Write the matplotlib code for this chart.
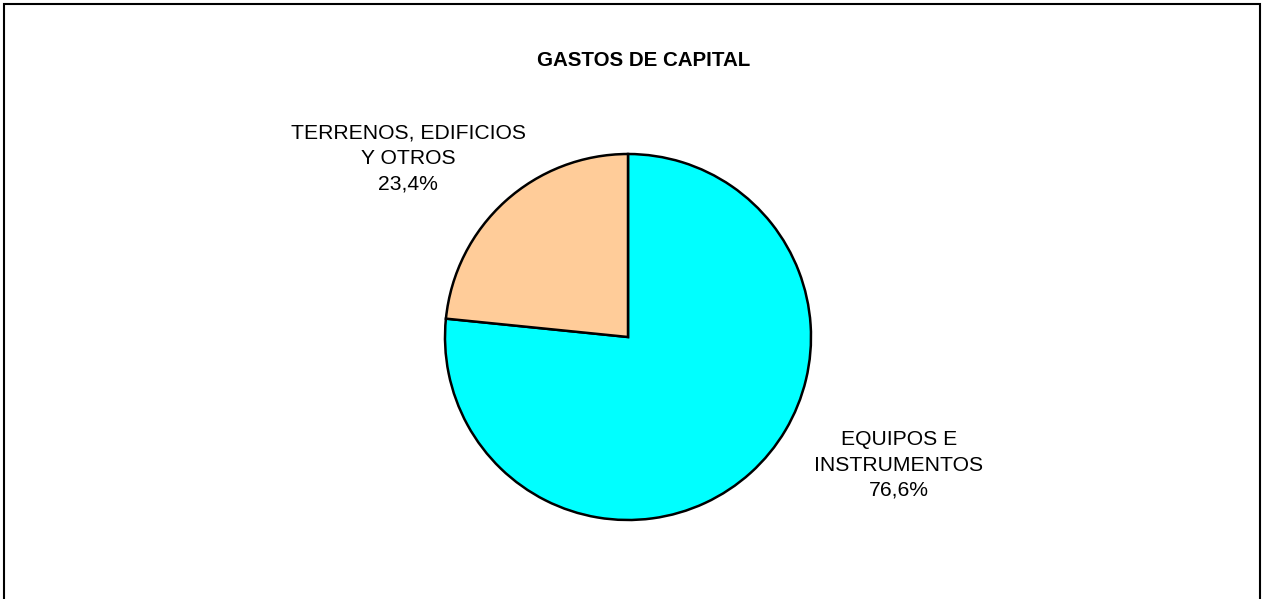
import matplotlib.pyplot as plt
from matplotlib.patches import Rectangle

plt.rcParams['font.family'] = ['Liberation Sans', 'DejaVu Sans']

categories = ["EQUIPOS E\nINSTRUMENTOS", "TERRENOS, EDIFICIOS\nY OTROS"]
values = [76.6, 23.4]
colors = ["#00FFFF", "#FFCC99"]
title = "GASTOS DE CAPITAL"

W, H = 1263, 599
fig = plt.figure(figsize=(W / 100, H / 100), dpi=100)

# pie axes: centre (628,337) px, radius 183 px
cx, cy, r = 628, 337, 183
ax = fig.add_axes([(cx - r) / W, (H - cy - r) / H, 2 * r / W, 2 * r / H])
wedges, _ = ax.pie(values, colors=colors, startangle=90, counterclock=False,
                   wedgeprops=dict(edgecolor="black", linewidth=1.8))
ax.set_xlim(-1, 1)
ax.set_ylim(-1, 1)
ax.set_aspect("equal")
ax.axis("off")

# label positions (axes data coords)
label_pos = [(1.48, -0.70), (-1.20, 0.975)]
for name, v, (lx, ly) in zip(categories, values, label_pos):
    txt = name + "\n" + f"{v:.1f}".replace(".", ",") + "%"
    ax.text(lx, ly, txt, ha="center", va="center", fontsize=15.2,
            linespacing=1.42, clip_on=False)

fig.text(644 / W, 1 - 61 / H, title, ha="center", va="center",
         fontsize=14.8, fontweight="bold")

# outer frame (bottom edge runs off the image)
fig.patches.append(Rectangle((4 / W, -0.05), 1256 / W, 1.05 - 4 / H,
                             transform=fig.transFigure, fill=False,
                             edgecolor="black", linewidth=1.5))

fig.savefig("out.png", dpi=100)
